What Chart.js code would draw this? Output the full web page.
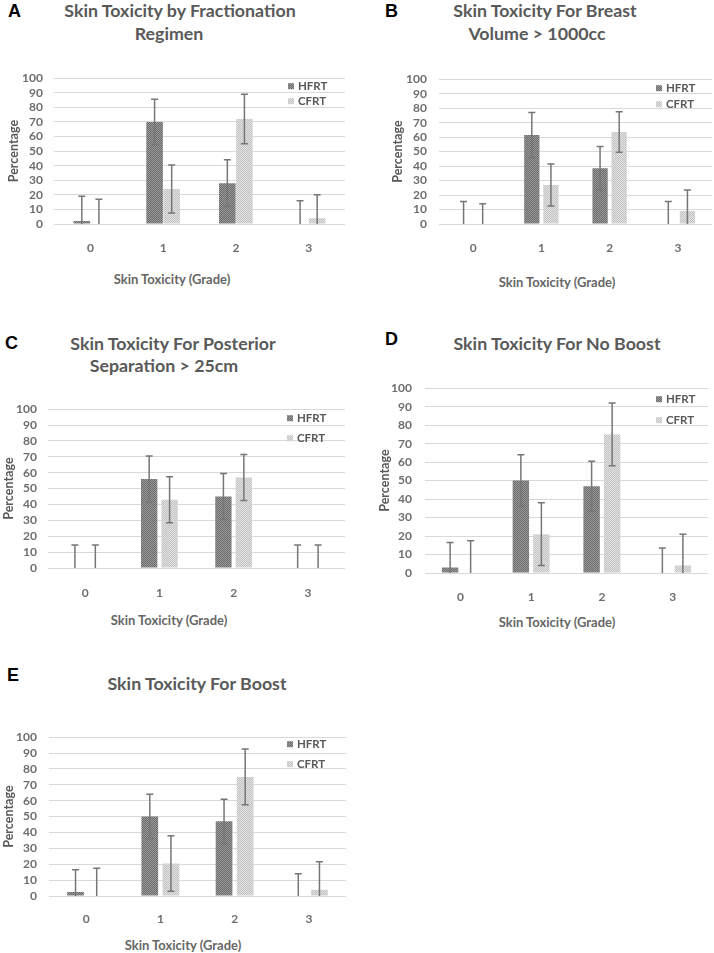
<!DOCTYPE html>
<html>
<head>
<meta charset="utf-8">
<script src="https://cdn.jsdelivr.net/npm/chart.js@4.4.1/dist/chart.umd.min.js"></script>
<style>
  html, body { margin: 0; padding: 0; background: #fff; }
  body { position: relative; width: 714px; height: 953px; overflow: hidden; }
  canvas { position: absolute; }
  .letter { position: absolute; font: bold 18px "Liberation Sans", Arial, sans-serif; color: #000; line-height: 1; }
  .caption { position: absolute; transform: translate(-50%, -50%); white-space: nowrap; font-family: Lato, "Open Sans", sans-serif; font-weight: bold; color: #595959; }
  .title { font-size: 17.8px; }
  .xtitle { font-size: 13px; color: #666; }
</style>
</head>
<body>
<script>
const grades = ["0", "1", "2", "3"];
const seriesNames = ["HFRT", "CFRT"];

// A: all patients
const titleA = ["Skin Toxicity by Fractionation", "Regimen"];
const hfrtA = [2, 70, 28, 0];
const hfrtErrA = [17, 15.5, 16, 16];
const cfrtA = [0, 24, 72, 4];
const cfrtErrA = [17, 16.5, 17, 16];

// B: breast volume > 1000cc
const titleB = ["Skin Toxicity For Breast", "Volume > 1000cc"];
const hfrtB = [0, 61.5, 38.5, 0];
const hfrtErrB = [15.5, 15.5, 15, 15.5];
const cfrtB = [0, 27, 63.5, 9];
const cfrtErrB = [14, 14.5, 14, 14.5];

// C: posterior separation > 25cm
const titleC = ["Skin Toxicity For Posterior", "Separation > 25cm"];
const hfrtC = [0, 56, 45, 0];
const hfrtErrC = [14.5, 14.5, 14.5, 14.5];
const cfrtC = [0, 43, 57, 0];
const cfrtErrC = [14.5, 14.5, 14.5, 14.5];

// D: no boost
const titleD = ["Skin Toxicity For No Boost"];
const hfrtD = [3, 50, 47, 0];
const hfrtErrD = [13.5, 14, 13.5, 13.5];
const cfrtD = [0, 21, 75, 4];
const cfrtErrD = [17.5, 17, 17, 17];

// E: boost
const titleE = ["Skin Toxicity For Boost"];
const hfrtE = [2.5, 50, 47, 0];
const hfrtErrE = [14, 14, 14, 14];
const cfrtE = [0, 20.5, 75, 4];
const cfrtErrE = [17.5, 17.5, 17.5, 17.5];

const xAxisTitle = "Skin Toxicity (Grade)";
const yAxisTitle = "Percentage";

const panels = [
  { letter: "A", title: titleA, hfrt: hfrtA, hfrtErr: hfrtErrA, cfrt: cfrtA, cfrtErr: cfrtErrA,
    box: { left: 0, top: 60, width: 346, height: 194 }, yWidth: 54, yTitlePad: 6, tickPad: 11, xTickPad: 9,
    catPct: 0.47, barPct: 0.97, legend: { dx: -57, dy: 8, gap: 15 },
    letterPos: [8, 2], titlePos: [[180, 10], [169, 33]], xTitlePos: [172, 279] },
  { letter: "B", title: titleB, hfrt: hfrtB, hfrtErr: hfrtErrB, cfrt: cfrtB, cfrtErr: cfrtErrB,
    box: { left: 384, top: 60, width: 329, height: 194 }, yWidth: 55, yTitlePad: 6, tickPad: 12, xTickPad: 9,
    catPct: 0.56, barPct: 0.8, legend: { dx: -56, dy: 9, gap: 16 },
    letterPos: [385, 2], titlePos: [[545, 10], [537, 33]], xTitlePos: [557, 282] },
  { letter: "C", title: titleC, hfrt: hfrtC, hfrtErr: hfrtErrC, cfrt: cfrtC, cfrtErr: cfrtErrC,
    box: { left: 0, top: 391, width: 346, height: 207 }, yWidth: 48, yTitlePad: 1, tickPad: 11, xTickPad: 10,
    catPct: 0.55, barPct: 0.8, legend: { dx: -58, dy: 9, gap: 20 },
    letterPos: [5, 334], titlePos: [[173, 343], [164, 365]], xTitlePos: [169, 620] },
  { letter: "D", title: titleD, hfrt: hfrtD, hfrtErr: hfrtErrD, cfrt: cfrtD, cfrtErr: cfrtErrD,
    box: { left: 371, top: 368, width: 338, height: 235 }, yWidth: 54, yTitlePad: 6, tickPad: 13, xTickPad: 9,
    catPct: 0.58, barPct: 0.8, legend: { dx: -52, dy: 11, gap: 21 },
    letterPos: [385, 330], titlePos: [[557, 343]], xTitlePos: [557, 622] },
  { letter: "E", title: titleE, hfrt: hfrtE, hfrtErr: hfrtErrE, cfrt: cfrtE, cfrtErr: cfrtErrE,
    box: { left: 0, top: 718, width: 347, height: 208 }, yWidth: 49, yTitlePad: 1, tickPad: 12, xTickPad: 8,
    catPct: 0.57, barPct: 0.79, legend: { dx: -59, dy: 7, gap: 20 },
    letterPos: [7, 666], titlePos: [[197, 683]], xTitlePos: [183, 945] },
];

const tickFont = { family: "Lato, 'Open Sans', sans-serif", size: 12, weight: "bold" };
const tickColor = "#6e6e6e";

function makePattern(bg, fg, size, dots) {
  const c = document.createElement("canvas");
  c.width = size;
  c.height = size;
  const g = c.getContext("2d");
  g.fillStyle = bg;
  g.fillRect(0, 0, size, size);
  g.fillStyle = fg;
  dots.forEach(([x, y]) => g.fillRect(x, y, 1, 1));
  return g.createPattern(c, "repeat");
}

const hfrtFill = makePattern("#6c6c6c", "#999999", 2, [[0, 0], [1, 1]]);
const cfrtFill = makePattern("#e2e2e2", "#c2c2c2", 2, [[0, 0], [1, 1]]);

// vertical error bars with caps, drawn through the y scale
const errorBars = {
  id: "errorBars",
  afterDatasetsDraw(chart) {
    const ctx = chart.ctx;
    const y = chart.scales.y;
    ctx.save();
    ctx.strokeStyle = "#767676";
    ctx.lineWidth = 1.5;
    chart.data.datasets.forEach((ds, i) => {
      chart.getDatasetMeta(i).data.forEach((bar, j) => {
        const v = ds.data[j];
        const e = ds.errors[j];
        const top = y.getPixelForValue(v + e);
        const low = v - e;
        const bottom = y.getPixelForValue(Math.max(low, 0));
        ctx.beginPath();
        ctx.moveTo(bar.x, top);
        ctx.lineTo(bar.x, bottom);
        ctx.moveTo(bar.x - 3.5, top);
        ctx.lineTo(bar.x + 3.5, top);
        if (low > 0) {
          ctx.moveTo(bar.x - 3.5, bottom);
          ctx.lineTo(bar.x + 3.5, bottom);
        }
        ctx.stroke();
      });
    });
    ctx.restore();
  },
};

// small legend drawn inside the plot, top right
const insideLegend = {
  id: "insideLegend",
  afterDraw(chart, args, opts) {
    const ctx = chart.ctx;
    const area = chart.chartArea;
    ctx.save();
    ctx.font = "bold 11.5px Lato, 'Open Sans', sans-serif";
    ctx.textBaseline = "middle";
    chart.data.datasets.forEach((ds, i) => {
      const x = area.right + opts.dx;
      const y = area.top + opts.dy + i * opts.gap;
      ctx.fillStyle = ds.backgroundColor;
      ctx.fillRect(x, y - 3, 6, 6);
      ctx.fillStyle = "#595959";
      ctx.fillText(ds.label, x + 10, y);
    });
    ctx.restore();
  },
};

function addText(cls, text, x, y) {
  const el = document.createElement("div");
  el.className = cls;
  el.textContent = text;
  el.style.left = x + "px";
  el.style.top = y + "px";
  document.body.appendChild(el);
}

panels.forEach((p) => {
  addText("letter", p.letter, p.letterPos[0], p.letterPos[1]);
  p.title.forEach((line, k) => addText("caption title", line, p.titlePos[k][0], p.titlePos[k][1]));
  addText("caption xtitle", xAxisTitle, p.xTitlePos[0], p.xTitlePos[1]);

  const canvas = document.createElement("canvas");
  canvas.width = p.box.width;
  canvas.height = p.box.height;
  canvas.style.left = p.box.left + "px";
  canvas.style.top = p.box.top + "px";
  document.body.appendChild(canvas);

  new Chart(canvas, {
    type: "bar",
    data: {
      labels: grades,
      datasets: [
        { label: seriesNames[0], data: p.hfrt, errors: p.hfrtErr, backgroundColor: hfrtFill,
          categoryPercentage: p.catPct, barPercentage: p.barPct },
        { label: seriesNames[1], data: p.cfrt, errors: p.cfrtErr, backgroundColor: cfrtFill,
          categoryPercentage: p.catPct, barPercentage: p.barPct },
      ],
    },
    options: {
      responsive: false,
      animation: false,
      layout: { padding: { top: 8, right: 1, left: 0, bottom: 0 } },
      plugins: {
        legend: { display: false },
        tooltip: { enabled: false },
        insideLegend: p.legend,
      },
      scales: {
        x: {
          grid: { display: false },
          border: { display: false },
          ticks: { padding: p.xTickPad, font: tickFont, color: tickColor },
          afterFit: (s) => { s.height = 30; },
        },
        y: {
          min: 0,
          max: 100,
          ticks: { stepSize: 10, autoSkip: false, padding: p.tickPad, font: tickFont, color: tickColor },
          grid: { color: "#d9d9d9", drawTicks: false },
          border: { display: false },
          title: {
            display: true,
            text: yAxisTitle,
            color: "#595959",
            font: { family: "Lato, 'Open Sans', sans-serif", size: 12.5, weight: "bold" },
            padding: { top: p.yTitlePad, bottom: 0 },
          },
          afterFit: (s) => { s.width = p.yWidth; },
        },
      },
    },
    plugins: [errorBars, insideLegend],
  });
});
</script>
</body>
</html>
